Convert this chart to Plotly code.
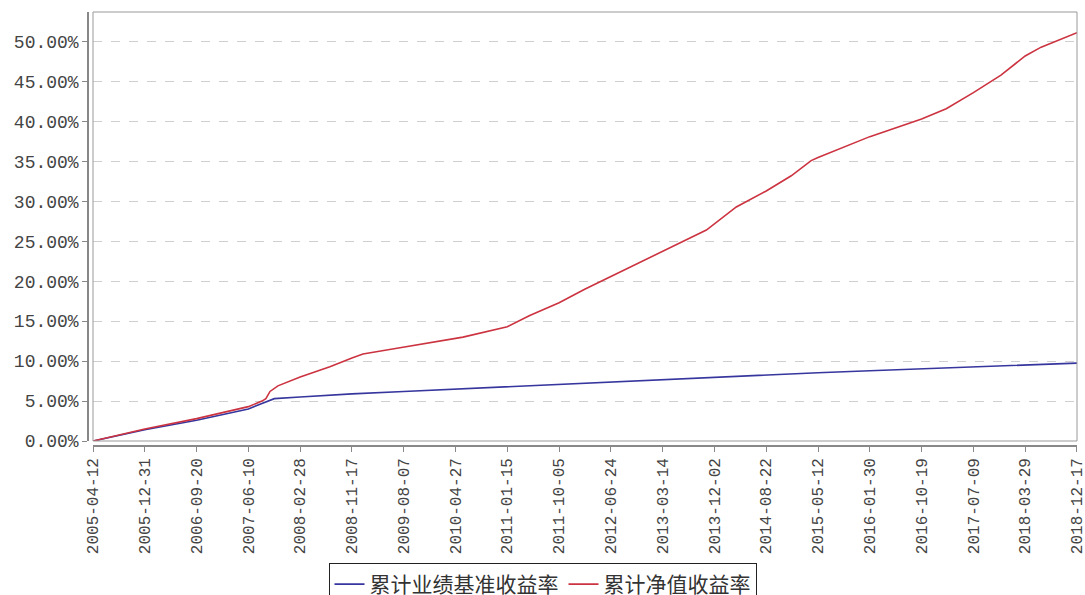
import plotly.graph_objects as go

# ---- data ----
bench_dates = ["2005-04-12", "2005-12-31", "2006-09-20", "2007-06-10", "2007-08-18",
               "2007-10-20", "2008-02-28", "2008-11-17", "2009-08-07", "2010-04-27",
               "2011-01-15", "2011-10-05", "2012-06-24", "2013-03-14", "2013-12-02",
               "2014-08-22", "2015-05-12", "2016-01-30", "2016-10-19", "2017-07-09",
               "2018-03-29", "2018-12-17"]
bench_vals = [0.0, 1.4, 2.6, 4.0, 4.7, 5.3, 5.5, 5.9, 6.2, 6.5,
              6.8, 7.1, 7.4, 7.7, 8.0, 8.3, 8.55, 8.8, 9.05, 9.3,
              9.5, 9.75]

nav_dates = ["2005-04-12", "2005-12-31", "2006-09-20", "2007-06-10", "2007-08-18",
             "2007-09-07", "2007-09-28", "2007-11-07", "2008-02-28", "2008-07-28",
             "2008-11-17", "2009-01-12", "2009-07-04", "2009-12-18", "2010-06-04",
             "2011-01-15", "2011-05-09", "2011-10-05", "2012-02-12", "2012-06-24",
             "2013-03-14", "2013-10-22", "2014-03-23", "2014-08-22", "2014-12-27",
             "2015-04-07", "2015-05-12", "2015-12-17", "2016-01-30", "2016-10-19",
             "2017-02-21", "2017-07-09", "2017-11-26", "2018-03-29", "2018-06-18",
             "2018-12-17"]
nav_vals = [0.0, 1.5, 2.8, 4.3, 5.0,
            5.3, 6.2, 6.9, 8.0, 9.3,
            10.4, 10.9, 11.6, 12.3, 13.0,
            14.3, 15.7, 17.3, 19.0, 20.6,
            23.8, 26.4, 29.3, 31.3, 33.2,
            35.1, 35.5, 37.7, 38.1, 40.3,
            41.6, 43.6, 45.8, 48.2, 49.3,
            51.1]

tick_dates = ["2005-04-12", "2005-12-31", "2006-09-20", "2007-06-10", "2008-02-28",
              "2008-11-17", "2009-08-07", "2010-04-27", "2011-01-15", "2011-10-05",
              "2012-06-24", "2013-03-14", "2013-12-02", "2014-08-22", "2015-05-12",
              "2016-01-30", "2016-10-19", "2017-07-09", "2018-03-29", "2018-12-17"]
y_ticks = [0, 5, 10, 15, 20, 25, 30, 35, 40, 45, 50]
y_labels = ["0.00%", "5.00%", "10.00%", "15.00%", "20.00%", "25.00%",
            "30.00%", "35.00%", "40.00%", "45.00%", "50.00%"]

series_names = ["累计业绩基准收益率", "累计净值收益率"]

fig = go.Figure()
fig.add_trace(go.Scatter(x=bench_dates, y=bench_vals, mode="lines",
                         name=series_names[0],
                         line=dict(color="#36369e", width=1.6)))
fig.add_trace(go.Scatter(x=nav_dates, y=nav_vals, mode="lines",
                         name=series_names[1],
                         line=dict(color="#cc3340", width=1.6)))

tickfont_y = dict(family="Liberation Mono", size=18, color="#444444")
tickfont_x = dict(family="Liberation Mono", size=16, color="#444444")

fig.update_layout(
    width=1085, height=595,
    margin=dict(l=88, r=8, t=12, b=149, autoexpand=False),
    paper_bgcolor="white", plot_bgcolor="white",
    showlegend=True,
    legend=dict(orientation="h", xref="container", yref="container",
                x=0.5, xanchor="center", y=1 - 563 / 595, yanchor="top",
                bordercolor="#222222", borderwidth=1,
                font=dict(family="Noto Sans CJK SC", size=21, color="#333333"),
                itemwidth=30, tracegroupgap=0),
    xaxis=dict(type="date", domain=[5 / 989, 1], anchor="free", position=0,
               range=[tick_dates[0], tick_dates[-1] + " 04:00"],
               tickmode="array", tickvals=tick_dates, ticktext=tick_dates,
               tickangle=-90, tickfont=tickfont_x, automargin=False,
               ticklabeloverflow="allow",
               ticks="outside", ticklen=5, tickcolor="#888888",
               showline=True, linecolor="#888888", linewidth=1.5,
               showgrid=False, zeroline=False),
    yaxis=dict(domain=[5 / 434, 1], anchor="free", position=0,
               range=[0, 53.7], tickmode="array", tickvals=y_ticks,
               ticktext=y_labels, tickfont=tickfont_y, automargin=False,
               ticks="outside", ticklen=5, tickcolor="#888888",
               showline=True, linecolor="#888888", linewidth=1.5,
               showgrid=True, gridcolor="#cfcfcf", griddash="dash", gridwidth=1,
               zeroline=False),
)

fig.add_shape(type="rect", xref="x domain", yref="y domain",
              x0=0, x1=1, y0=0, y1=1,
              line=dict(color="#999999", width=1), layer="above")

fig.write_html("out.html", config={"displayModeBar": False},
               post_script="document.body.style.margin='0';document.body.style.overflow='hidden';")
